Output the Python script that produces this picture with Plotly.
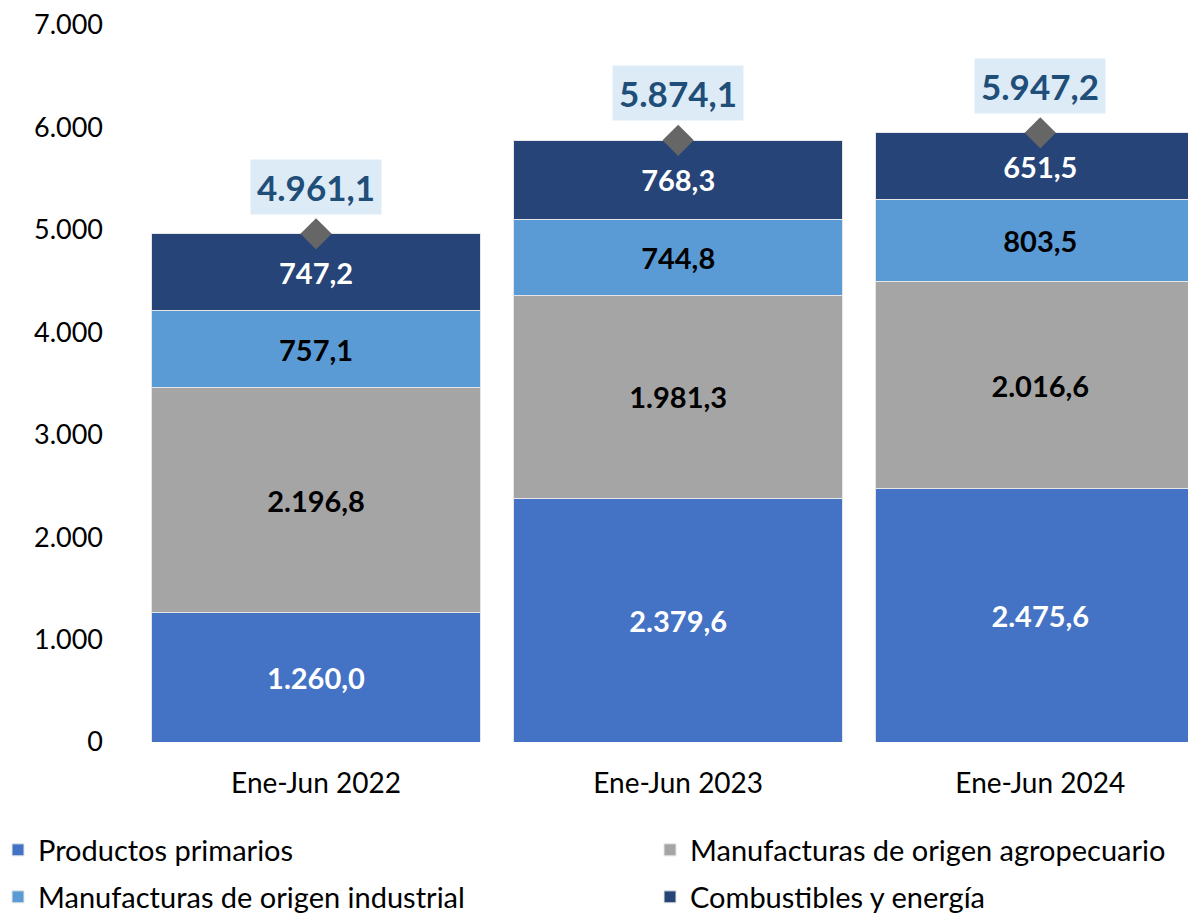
import plotly.graph_objects as go

periodos = ["Ene-Jun 2022", "Ene-Jun 2023", "Ene-Jun 2024"]
productos_primarios = [1260.0, 2379.6, 2475.6]
moa = [2196.8, 1981.3, 2016.6]
moi = [757.1, 744.8, 803.5]
combustibles = [747.2, 768.3, 651.5]
totales = [4961.1, 5874.1, 5947.2]

FONT = "Lato"
W, H = 1188, 905  # page body adds an 8px margin
ML, MT, MB = 127, 17, 171
PW, PH = W - ML, H - MT - MB

# name, values, colour, label colour, legend id
series = [
    ("Productos primarios", productos_primarios, "#4472C4", "white", "legend"),
    ("Manufacturas de origen agropecuario", moa, "#A5A5A5", "black", "legend2"),
    ("Manufacturas de origen industrial", moi, "#5B9BD5", "black", "legend3"),
    ("Combustibles y energía", combustibles, "#264478", "white", "legend4"),
]

fig = go.Figure()
for name, vals, color, txtcol, leg in series:
    fig.add_trace(go.Bar(
        x=periodos, y=vals, name=name, legend=leg,
        marker=dict(color=color, line=dict(color="#E6E6E6", width=1)),
        texttemplate="%{y:,.1f}", textposition="inside",
        insidetextanchor="middle", textangle=0, constraintext="none",
        textfont=dict(family=FONT, size=29, color=txtcol, weight="bold"),
    ))

fig.add_trace(go.Scatter(
    x=periodos, y=totales, mode="markers", showlegend=False,
    marker=dict(symbol="diamond", size=24, color="#666666"),
    cliponaxis=False,
))

for p, t in zip(periodos, totales):
    fig.add_annotation(
        x=p, y=t, yanchor="bottom", yshift=19, showarrow=False,
        text=f"{t:,.1f}".replace(",", "X").replace(".", ",").replace("X", "."),
        font=dict(family=FONT, size=35, color="#1F4E79", weight="bold"),
        bgcolor="#DDEBF7", borderpad=6,
    )


def leg(x, y):
    # x, y in figure pixels, converted to paper coordinates
    return dict(orientation="h", xanchor="left", yanchor="middle",
                xref="paper", yref="paper",
                x=(x - ML) / PW, y=(H - MB - y) / PH,
                font=dict(size=29), bgcolor="rgba(0,0,0,0)")


fig.update_layout(
    barmode="stack", bargap=0.09,
    width=W, height=H,
    margin=dict(l=ML, r=0, t=MT, b=MB, autoexpand=False),
    paper_bgcolor="white", plot_bgcolor="white",
    separators=",.",
    font=dict(family=FONT, size=27, color="black"),
    legend=leg(-10, 842),
    legend2=leg(642, 842),
    legend3=leg(-10, 889),
    legend4=leg(642, 889),
)
fig.update_xaxes(range=[-0.5, 2.43], showline=False, ticks="",
                 ticklabelstandoff=22, tickfont=dict(size=28))
fig.update_yaxes(range=[0, 7000], dtick=1000, tickformat=",d", showgrid=False,
                 zeroline=False, ticklabelstandoff=31, tickfont=dict(size=27),
                 ticklabeloverflow="allow")

fig.write_html("out.html")
